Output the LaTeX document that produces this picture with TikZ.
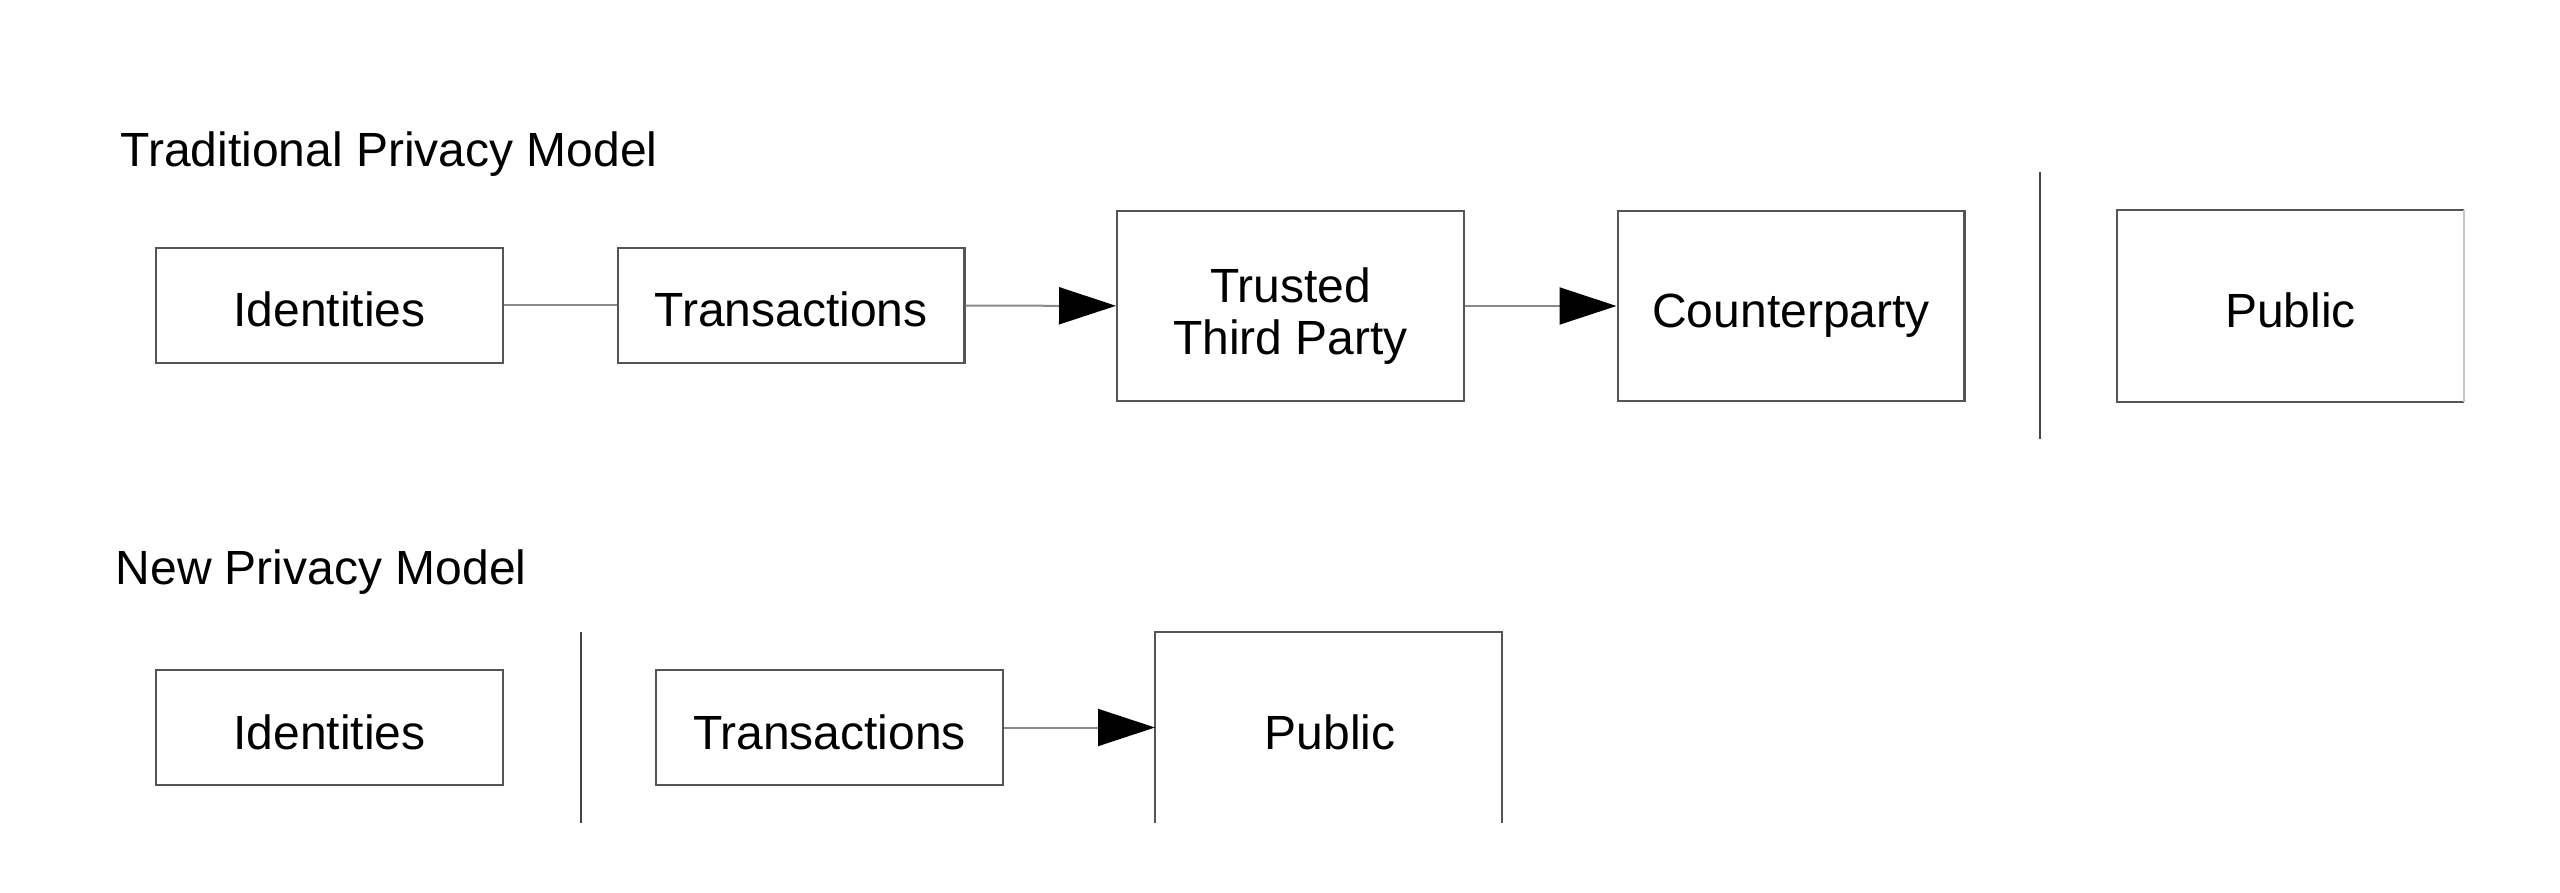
\documentclass[tikz,border=0pt]{standalone}
\usepackage{fontspec}
\setmainfont{Liberation Sans}
\usetikzlibrary{arrows.meta}
\definecolor{boxline}{HTML}{555555}
\definecolor{connline}{HTML}{8A8A8A}
\definecolor{sepline}{HTML}{444444}
\definecolor{faintline}{HTML}{C4C4C4}
\tikzset{
  every node/.style={font=\fontsize{14.4pt}{15.6pt}\selectfont, text=black},
  boxnode/.style={draw=boxline, line width=0.7pt, inner sep=0pt,
    minimum width=104pt, text height=12.9pt, text depth=0pt},
  smallbox/.style={boxnode, minimum height=34.5pt},
  bigbox/.style={boxnode, minimum height=57pt},
  conn/.style={draw=connline, line width=0.6pt},
  arr/.style={conn, -{Triangle[length=17.1pt,width=11.1pt,color=black]}},
  sep/.style={draw=sepline, line width=0.6pt},
  title/.style={anchor=base west, inner sep=0pt},
  plain/.style={anchor=base, inner sep=0pt}
}
\begin{document}
\begin{tikzpicture}[x=0.3pt, y=-0.3pt]
\useasboundingbox[fill=white] (0,0) rectangle (2560,893);

% Traditional model
\node[title] (t1) at (120,167) {Traditional Privacy Model};
\node[smallbox] (idA) at (329.5,305.5) {Identities};
\node[smallbox] (txA) at (791,305.5) {Transactions};
\node[bigbox] (ttp) at (1290.5,306) {};
\node[plain] (ttp1) at (1290.5,303) {Trusted};
\node[plain] (ttp2) at (1290.5,355) {Third Party};
\node[bigbox] (cp) at (1791,306) {Counterparty};
\coordinate (s1a) at (2040,172);
\coordinate (s1b) at (2040,439);
\draw[sep] (s1a) -- (s1b);
\node[bigbox, draw=none, minimum width=103.5pt] (pubA) at (2290.5,306) {Public};
\draw[draw=boxline, line width=0.7pt] (pubA.north east) -- (pubA.north west) -- (pubA.south west) -- (pubA.south east);
\draw[draw=faintline, line width=0.6pt] (pubA.north east) -- (pubA.south east);

\draw[conn] (idA) -- (txA);
\draw[arr] (txA) -- (ttp);
\draw[arr] (ttp) -- (cp);

% New model
\node[title] (t2) at (115,585) {New Privacy Model};
\node[smallbox] (idB) at (329.5,727.5) {Identities};
\coordinate (s2a) at (581,632);
\coordinate (s2b) at (581,823);
\draw[sep] (s2a) -- (s2b);
\node[smallbox] (txB) at (829.5,727.5) {Transactions};
\coordinate (pbTL) at (1155,632);
\coordinate (pbTR) at (1502,632);
\coordinate (pbBL) at (1155,823);
\coordinate (pbBR) at (1502,823);
\draw[draw=boxline, line width=0.7pt] (pbBL) -- (pbTL) -- (pbTR) -- (pbBR);
\node[plain] (pubB) at (1330,749) {Public};
\coordinate (pbIn) at (1155,727.5);
\draw[arr] (txB) -- (pbIn);
\end{tikzpicture}
\end{document}
